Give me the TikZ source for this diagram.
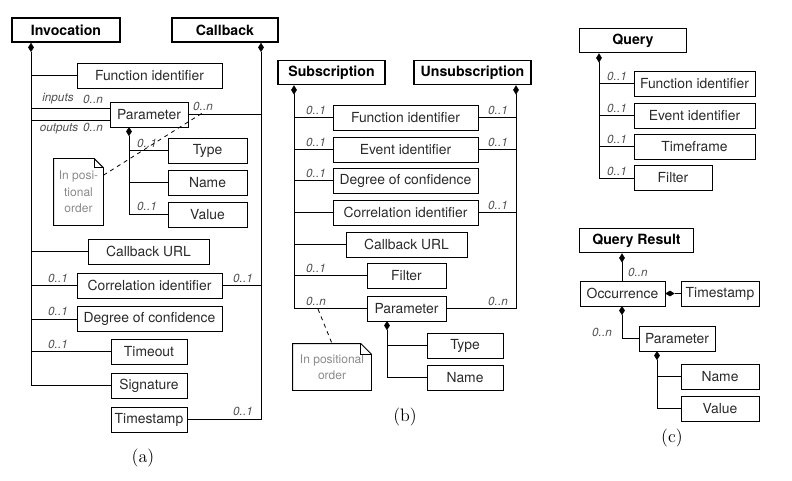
\documentclass[tikz,border=0pt]{standalone}
\usepackage{fontspec}
\setsansfont{TeX Gyre Heros}
\usetikzlibrary{shapes.geometric}
\definecolor{txt}{HTML}{2A2A2A}
\definecolor{labc}{HTML}{505050}
\definecolor{notec}{HTML}{8A8A8A}
\begin{document}
\begin{tikzpicture}[x=0.75pt,y=-0.75pt,line width=0.7pt,
  box/.style={draw, inner sep=0pt, minimum height=25*0.75pt, font=\sffamily\fontsize{10.4}{12}\selectfont, text=txt},
  bw/.style={minimum width=#1*0.75pt},
  title/.style={draw, line width=1.4pt, inner sep=0pt, minimum height=24*0.75pt, font=\sffamily\bfseries\fontsize{10.6}{12}\selectfont},
  dia/.style={diamond, fill, draw, line width=0.3pt, inner sep=0pt, minimum width=4pt, minimum height=6.5pt},
  hdia/.style={diamond, fill, draw, line width=0.3pt, inner sep=0pt, minimum width=6.5pt, minimum height=4pt},
  lab/.style={font=\sffamily\itshape\fontsize{8.8}{10}\selectfont, text=labc, inner sep=0.5pt, anchor=south},
  note/.style={inner sep=0pt, align=center, font=\sffamily\fontsize{9}{12.4}\selectfont, text=notec},
  captxt/.style={font=\fontsize{13.5}{15}\selectfont}
]
\useasboundingbox (0,0) rectangle (792,481);

% ================= (a) =================
\node[title, bw=108] (inv) at (66,30) {Invocation};
\node[title, bw=106] (cb) at (225,30) {Callback};
\node[dia, anchor=north] (invD) at (31,42.9) {};
\node[dia, anchor=north] (cbD) at (261,42.9) {};

\node[box, bw=145] (fid) at (149.5,75.5) {Function identifier};
\node[box, bw=78] (par) at (149,114.5) {Parameter};
\node[box, bw=79] (typ) at (207.5,150.5) {Type};
\node[box, bw=79] (nam) at (207.5,182.5) {Name};
\node[box, bw=79] (val) at (207.5,214.5) {Value};
\node[box, bw=121] (cburl) at (148.5,251.5) {Callback URL};
\node[box, bw=145] (corr) at (149.5,285.5) {Correlation identifier};
\node[box, bw=145] (doc) at (149.5,319) {Degree of confidence};
\node[box, bw=76] (tout) at (149,351.5) {Timeout};
\node[box, bw=76] (sig) at (149,385.5) {Signature};
\node[box, bw=76] (ts) at (149,419.5) {Timestamp};

\draw (invD.south) |- (sig.west);
\draw (cbD.south) |- (ts.east);
\draw (fid.west) -- (fid.west -| invD.south);
\coordinate (pin) at ([yshift=4.5pt]par.west);
\coordinate (pout) at ([yshift=-4.5pt]par.west);
\draw (pin) -- (pin -| invD.south);
\draw (pout) -- (pout -| invD.south);
\draw (par.east) -- (par.east -| cbD.south);
\draw (cburl.west) -- (cburl.west -| invD.south);
\draw (corr.west) -- (corr.west -| invD.south);
\draw (corr.east) -- (corr.east -| cbD.south);
\draw (doc.west) -- (doc.west -| invD.south);
\draw (tout.west) -- (tout.west -| invD.south);

\node[dia, anchor=north] (parD) at (129,127) {};
\draw (parD.south) |- (val.west);
\draw (typ.west) -- (typ.west -| parD.south);
\draw (nam.west) -- (nam.west -| parD.south);

\node[lab] at (58,105) {inputs};
\node[lab] at (93,105) {0..n};
\node[lab, anchor=north] at (59,122.5) {outputs};
\node[lab, anchor=north] at (93,122.5) {0..n};
\node[lab] at (203,112) {0..n};
\node[lab] at (147,149) {0..1};
\node[lab] at (147,212) {0..1};
\node[lab] at (58,283.5) {0..1};
\node[lab] at (243,283.5) {0..1};
\node[lab] at (58,317) {0..1};
\node[lab] at (58,349.5) {0..1};
\node[lab] at (243,417) {0..1};

\node[note, minimum width=49*0.75pt, minimum height=66*0.75pt] (n1) at (78.5,192) {In posi-\\tional\\order};
\draw (n1.north west) -- ([xshift=-7pt]n1.north east) -- ([yshift=-7pt]n1.north east) -- (n1.south east) -- (n1.south west) -- cycle;
\draw ([xshift=-7pt]n1.north east) -- ([xshift=-7pt,yshift=-7pt]n1.north east) -- ([yshift=-7pt]n1.north east);
\coordinate (d1) at (204,112);
\draw[dashed, line width=0.6pt] ([yshift=-12.5pt]n1.north east) -- (d1);

\node[captxt] (capa) at (143,458) {(a)};

% ================= (b) =================
\node[title, bw=107] (sub) at (331.5,72.5) {Subscription};
\node[title, bw=117] (uns) at (472.5,72.5) {Unsubscription};
\node[dia, anchor=north] (subD) at (294,85.4) {};
\node[dia, anchor=north] (unsD) at (516,85.4) {};

\node[box, bw=145] (bfid) at (405.5,117.5) {Function identifier};
\node[box, bw=145] (beid) at (405.5,149.5) {Event identifier};
\node[box, bw=145] (bdoc) at (405.5,180.5) {Degree of confidence};
\node[box, bw=145] (bcorr) at (405.5,212.5) {Correlation identifier};
\node[box, bw=121] (bcburl) at (406.5,244.5) {Callback URL};
\node[box, bw=79] (bfil) at (406.5,275.5) {Filter};
\node[box, bw=79] (bpar) at (406.5,308.5) {Parameter};
\node[box, bw=76] (btyp) at (465,345.5) {Type};
\node[box, bw=76] (bnam) at (465,377.5) {Name};

\draw (subD.south) |- (bpar.west);
\draw (unsD.south) |- (bpar.east);
\foreach \n in {bfid,beid,bdoc,bcorr,bcburl,bfil}
  \draw (\n.west) -- (\n.west -| subD.south);
\foreach \n in {bfid,beid,bcorr}
  \draw (\n.east) -- (\n.east -| unsD.south);

\node[dia, anchor=north] (bparD) at (387,321) {};
\draw (bparD.south) |- (bnam.west);
\draw (btyp.west) -- (btyp.west -| bparD.south);

\node[lab] at (316,116) {0..1};
\node[lab] at (316,148) {0..1};
\node[lab] at (316,179) {0..1};
\node[lab] at (316,274) {0..1};
\node[lab] at (316,307) {0..n};
\node[lab] at (498,116) {0..1};
\node[lab] at (498,148) {0..1};
\node[lab] at (498,211) {0..1};
\node[lab] at (498,307) {0..n};

\node[note, minimum width=78*0.75pt, minimum height=46*0.75pt] (n2) at (332,367) {In positional\\order};
\draw (n2.north west) -- ([xshift=-8pt]n2.north east) -- ([yshift=-8pt]n2.north east) -- (n2.south east) -- (n2.south west) -- cycle;
\draw ([xshift=-8pt]n2.north east) -- ([xshift=-8pt,yshift=-8pt]n2.north east) -- ([yshift=-8pt]n2.north east);
\coordinate (d2) at (318,309);
\draw[dashed, line width=0.6pt] (d2) -- (n2.north);

\node[captxt] (capb) at (405,417) {(b)};

% ================= (c) =================
\node[title, bw=107] (q) at (633,40.5) {Query};
\node[dia, anchor=north] (qD) at (599,53.4) {};
\node[box, bw=121] (cfid) at (694.5,83.5) {Function identifier};
\node[box, bw=121] (ceid) at (694.5,115.5) {Event identifier};
\node[box, bw=121] (ctf) at (694.5,146.5) {Timeframe};
\node[box, bw=78] (cfil) at (673,178) {Filter};
\draw (qD.south) |- (cfil.west);
\foreach \n in {cfid,ceid,ctf}
  \draw (\n.west) -- (\n.west -| qD.south);
\node[lab] at (617,82) {0..1};
\node[lab] at (617,114) {0..1};
\node[lab] at (617,145) {0..1};
\node[lab] at (617,176.5) {0..1};

\node[title, bw=114] (qr) at (636.5,240.5) {Query Result};
\node[dia, anchor=north] (qrD) at (622,253.4) {};
\node[box, bw=85] (occ) at (622.5,293.5) {Occurrence};
\node[box, bw=78] (cts) at (720,293.5) {Timestamp};
\node[hdia, anchor=west] (occE) at (occ.east) {};
\node[dia, anchor=north] (occD) at (622,306) {};
\node[box, bw=76] (cpar) at (677,338.5) {Parameter};
\node[dia, anchor=north] (cparD) at (657,351) {};
\node[box, bw=78] (cnam) at (720,376.5) {Name};
\node[box, bw=78] (cval) at (720,408.5) {Value};

\draw (qrD.south) -- (qrD.south |- occ.north);
\draw (occE.east) -- (cts.west);
\draw (occD.south) |- (cpar.west);
\draw (cparD.south) |- (cval.west);
\draw (cnam.west) -- (cnam.west -| cparD.south);
\node[lab, anchor=west] at (627,272) {0..n};
\node[lab, anchor=center] at (602,332) {0..n};

\node[captxt] (capc) at (672,438) {(c)};
\end{tikzpicture}
\end{document}
